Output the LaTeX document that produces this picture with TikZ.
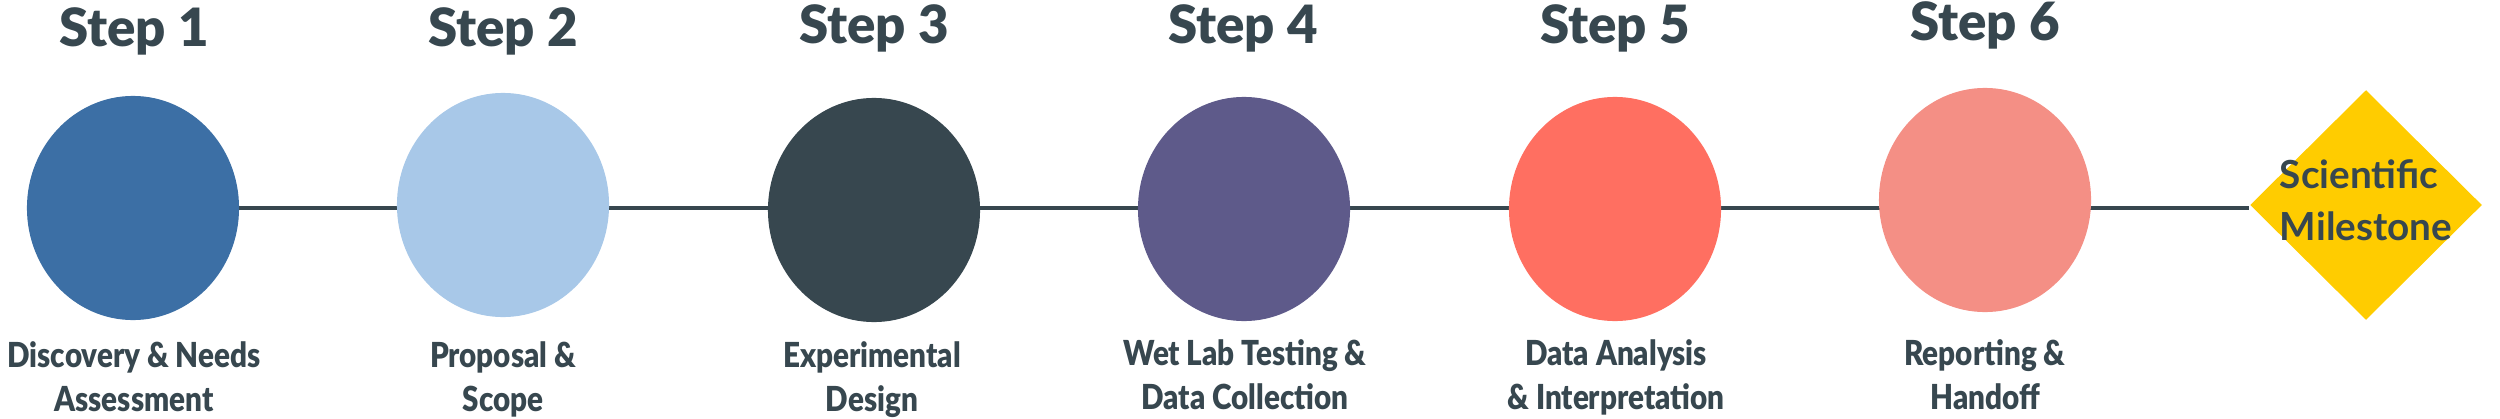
\documentclass[tikz,border=0pt]{standalone}
\usepackage{fontspec}
\setmainfont{Lato}
\newfontfamily\titlefont{Lato Black}
\newfontfamily\labelfont{Lato Black}[FakeStretch=0.86]
\usetikzlibrary{shapes.geometric,backgrounds}
\definecolor{ink}{HTML}{37474F}
\definecolor{cA}{HTML}{3C6FA5}
\definecolor{cB}{HTML}{A8C8E8}
\definecolor{cC}{HTML}{37474F}
\definecolor{cD}{HTML}{5E5A8A}
\definecolor{cE}{HTML}{FF6F61}
\definecolor{cF}{HTML}{F48F85}
\definecolor{cG}{HTML}{FFCC00}
\tikzset{
  stepcirc/.style={ellipse, draw=none, minimum width=2.12cm, minimum height=2.24cm, inner sep=0pt},
  steptitle/.style={anchor=base, inner sep=0pt, text=ink, font=\titlefont\fontsize{15}{18}\selectfont},
  steplabel/.style={anchor=north, inner sep=0pt, align=center, text=ink, font=\labelfont\fontsize{9.8}{12.6}\selectfont},
  msdiamond/.style={diamond, aspect=1, fill=cG, draw=none, minimum width=2.32cm, minimum height=2.30cm, inner sep=0pt},
  mstext/.style={inner sep=0pt, align=left, text=ink, font=\bfseries\fontsize{11}{14.8}\selectfont},
  conn/.style={draw=ink, line width=1pt}
}
\begin{document}
\begin{tikzpicture}[x=0.01cm, y=-0.01cm]
\useasboundingbox (0,0) rectangle (2500,418);
\node[stepcirc, fill=cA] (e1) at (133,208) {};
\node[stepcirc, fill=cB] (e2) at (503,205) {};
\node[stepcirc, fill=cC] (e3) at (874,210) {};
\node[stepcirc, fill=cD] (e4) at (1244,209) {};
\node[stepcirc, fill=cE] (e5) at (1615,209) {};
\node[stepcirc, fill=cF] (e6) at (1985,200) {};
\node[msdiamond] (ms) at (2366,205) {};
\node[mstext] (mst) at (2366,200) {Scientific\\Milestone};
\begin{pgfonlayer}{background}
\draw[conn] (e1.center) -- (e1.center -| ms.west);
\end{pgfonlayer}
\node[steptitle] (t1) at (134,46) {Step 1};
\node[steptitle] (t2) at (503,46) {Step 2};
\node[steptitle] (t3) at (874,43) {Step 3};
\node[steptitle] (t4) at (1243,43) {Step 4};
\node[steptitle] (t5) at (1615,43) {Step 5};
\node[steptitle] (t6) at (1985,41) {Step 6};
\node[steplabel] (l1) at (134,341) {Discovery \& Needs\\Assessment};
\node[steplabel] (l2) at (503,341) {Proposal \&\\Scope};
\node[steplabel] (l3) at (872,341) {Experimental\\Design};
\node[steplabel] (l4) at (1245,339) {Wet Lab Testing \&\\Data Collection};
\node[steplabel] (l5) at (1616,339) {Data Analysis\\\& Interpretation};
\node[steplabel] (l6) at (1985,339) {Reporting \&\\Handoff};
\end{tikzpicture}
\end{document}
